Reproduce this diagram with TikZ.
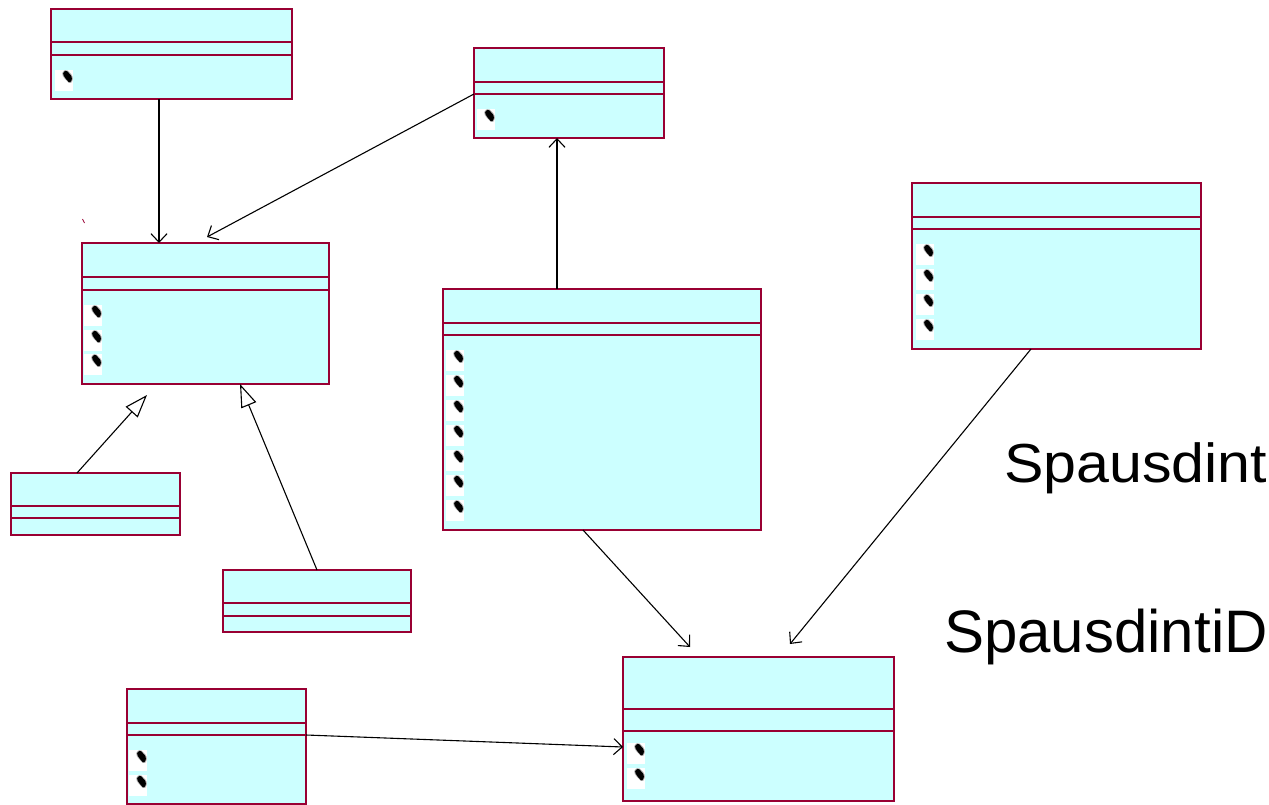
\documentclass[tikz,border=0pt]{standalone}
\usepackage{fontspec}
\setmainfont{Liberation Sans}
\usetikzlibrary{arrows.meta}

\definecolor{classfill}{HTML}{CCFFFF}
\definecolor{classline}{HTML}{990033}

% class box: name, left, top, right, bottom, first divider, second divider
\newcommand\umlclass[7]{%
  \node[classbox, minimum width={#4-#2}, minimum height={#5-#3}] (#1) at (#2,#3) {};
  \draw[divider] (#1.north west) ++(0,{#6-#3}) -- ++({#4-#2},0);
  \draw[divider] (#1.north west) ++(0,{#7-#3}) -- ++({#4-#2},0);
}

\begin{document}
\begin{tikzpicture}[x=1pt,y=-1pt,
  classbox/.style={draw=classline, fill=classfill, line width=1.3pt, rectangle,
    inner sep=0pt, outer sep=0pt, anchor=north west},
  divider/.style={draw=classline, line width=1.1pt},
  assoc/.style={draw=black, line width=1.1pt,
    -{Straight Barb[length=8.5pt,width=16pt,line width=1.1pt]}},
  inherit/.style={draw=black, line width=1.1pt,
    -{Triangle[open,length=23pt,width=16pt,fill=white,line width=1.1pt]}},
  caption/.style={anchor=base west, inner sep=0pt, text=black},
  bullet/.pic={
    \fill[white] (0,0) rectangle (18,21);
    \fill[black!30, rounded corners=1.5pt]
      (7.5,1.5) -- (11.5,-0.5) -- (17.5,5.5) -- (18,10.5) -- (15,14) -- (10,9) -- (7,5) -- cycle;
    \fill[black, rounded corners=1pt]
      (8.5,2) -- (11.5,0.5) -- (16.5,6) -- (17,10) -- (14.5,13) -- (10.5,8.5) -- (8,4.5) -- cycle;
  }
]
\useasboundingbox (0,0) rectangle (1269,805);

% classes
\umlclass{A}{51}{9}{292}{99}{42}{55}
\umlclass{B}{474}{48}{664}{138}{82}{94}
\umlclass{C}{82}{243}{329}{384}{277}{290}
\umlclass{D}{11}{473}{180}{535}{506}{518}
\umlclass{E}{223}{570}{411}{632}{603}{616}
\umlclass{F}{443}{289}{761}{530}{323}{335}
\umlclass{G}{912}{183}{1201}{349}{217}{229}
\umlclass{H}{623}{657}{894}{801}{709}{731}
\umlclass{I}{127}{689}{306}{804}{723}{735}

% member bullets
\pic at (55,70) {bullet};
\pic at (477,109) {bullet};
\foreach \y in {305,330,354} \pic at (84,\y) {bullet};
\foreach \k in {0,...,6} \pic at (446,{350+25*\k}) {bullet};
\foreach \k in {0,...,3} \pic at (916,{244+25*\k}) {bullet};
\foreach \y in {743,768} \pic at (627,\y) {bullet};
\foreach \y in {750,775} \pic at (129,\y) {bullet};

% associations
\draw[assoc] ([xshift=108pt]A.south west) -- ([xshift=77pt]C.north west);
\draw[assoc] ([yshift=-46pt]B.north west) -- ([xshift=125pt,yshift=6pt]C.north west);
\draw[assoc] ([xshift=114pt]F.north west) -- ([xshift=83pt]B.south west);
\draw[assoc] ([xshift=140pt]F.south west) -- ([xshift=67pt,yshift=10pt]H.north west);
\draw[assoc] ([xshift=119pt]G.south west) -- ([xshift=167pt,yshift=13pt]H.north west);
\draw[assoc] ([yshift=-46pt]I.north east) -- ([yshift=-90pt]H.north west);

% generalizations
\draw[inherit] ([xshift=66pt]D.north west) -- ([xshift=65pt,yshift=-11pt]C.south west);
\draw[inherit] ([xshift=94pt]E.north west) -- ([xshift=158pt]C.south west);

% stray mark
\draw[classline, line width=0.8pt] (82.5,219) -- (84.5,223);

% captions
\node[caption, font=\fontsize{55}{66}\selectfont] (t1) at (1004,482) {\scalebox{1.075}[1]{Spausdint}};
\node[caption, font=\fontsize{60}{72}\selectfont] (t2) at (944,652) {SpausdintiD};
\end{tikzpicture}
\end{document}
